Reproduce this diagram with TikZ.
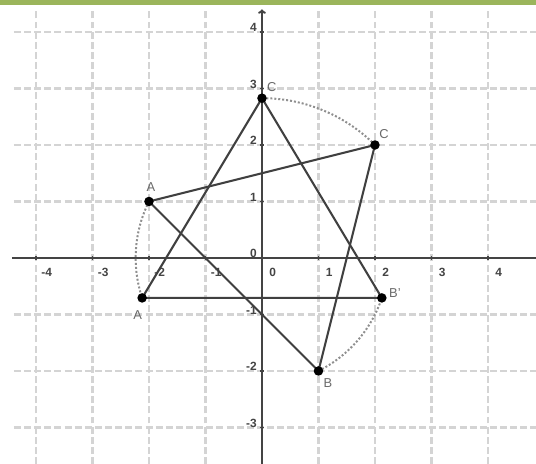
\documentclass[tikz,border=0pt]{standalone}
\usepackage{fontspec}
\setmainfont{Liberation Sans}
\usetikzlibrary{arrows.meta}
\definecolor{barg}{HTML}{9BB55B}
\definecolor{gridc}{HTML}{D4D4D4}
\definecolor{axc}{HTML}{444444}
\definecolor{segc}{HTML}{404040}
\definecolor{arcc}{HTML}{8F8F8F}
\definecolor{labc}{HTML}{6A6A6A}
\tikzset{
  gridline/.style={draw=gridc, line width=1.1pt, dash pattern=on 3.5pt off 1.6pt},
  axisline/.style={draw=axc, line width=1pt},
  seg/.style={draw=segc, line width=1.05pt},
  rotarc/.style={draw=arcc, line width=1pt, dash pattern=on 1pt off 1pt},
  ptdot/.style={circle, fill=black, inner sep=0pt, minimum size=4.8pt},
  ticklab/.style={font=\fontsize{6}{7}\selectfont\bfseries, text=axc, inner sep=0.5pt},
  ptlab/.style={font=\fontsize{6.5}{7.5}\selectfont, text=labc, inner sep=0.5pt}
}
\begin{document}
\begin{tikzpicture}[x=1cm,y=1cm]
\useasboundingbox (-4.637,-3.646) rectangle (4.850,4.566);
\fill[white] (-4.637,-3.646) rectangle (4.850,4.566);
% green bar
\fill[barg] (-4.637,4.478) rectangle (4.850,4.566);
% grid
\foreach \k in {-3,...,4} \draw[gridline] (-4.39,\k) -- (4.85,\k);
\foreach \k in {-4,...,4} \draw[gridline] (\k,-3.646) -- (\k,4.39);
% axes
\draw[axisline] (-4.425,0) -- (4.85,0);
\draw[axisline,-{To[length=2.2pt,width=4pt]}] (0,-3.646) -- (0,4.40);
\foreach \k in {-4,...,4} \draw[axc,line width=0.6pt] (\k,-0.04) -- (\k,0.04);
\foreach \k in {-3,...,4} \draw[axc,line width=0.6pt] (-0.04,\k) -- (0.04,\k);
% tick labels
\foreach \k in {-4,...,4} \node[ticklab] (xl\k) at (\k+0.19,-0.26) {\k};
\foreach \k in {-3,...,4} \node[ticklab,anchor=east] (yl\k) at (-0.07,\k+0.08) {\k};
% rotation arcs
\draw[rotarc] (153.435:2.2361) arc[start angle=153.435, end angle=198.435, radius=2.2361];
\draw[rotarc] (45:2.8284) arc[start angle=45, end angle=90, radius=2.8284];
\draw[rotarc] (-63.435:2.2361) arc[start angle=-63.435, end angle=-18.435, radius=2.2361];
% points
\coordinate (A) at (-2,1);
\coordinate (B) at (1,-2);
\coordinate (C) at (2,2);
\coordinate (A1) at (198.435:2.2361);
\coordinate (B1) at (-18.435:2.2361);
\coordinate (C1) at (90:2.8284);
% triangles
\draw[seg] (A) -- (B) -- (C) -- cycle;
\draw[seg] (A1) -- (B1) -- (C1) -- cycle;
% dots
\foreach \p in {A,B,C,A1,B1,C1} \node[ptdot] (d\p) at (\p) {};
% point labels
\node[ptlab] (lA) at (-1.965,1.257) {A};
\node[ptlab] (lA1) at (-2.2,-1.009) {A};
\node[ptlab] (lC1) at (0.172,3.032) {C};
\node[ptlab] (lC) at (2.159,2.195) {C};
\node[ptlab] (lB1) at (2.354,-0.619) {B'};
\node[ptlab] (lB) at (1.168,-2.212) {B};
\end{tikzpicture}
\end{document}
